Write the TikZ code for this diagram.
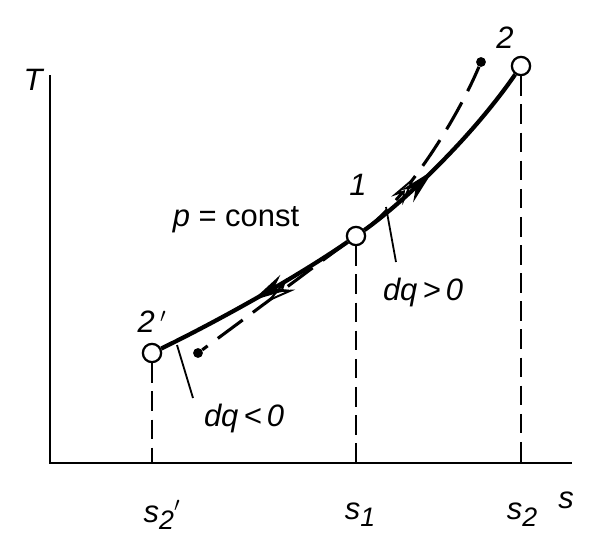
\documentclass[tikz,border=0pt]{standalone}
\usepackage{fontspec}
\setmainfont{Liberation Sans}
\usetikzlibrary{arrows.meta,decorations.markings}

\tikzstyle{state}=[draw, circle, fill=white, line width=1.6pt, minimum size=13pt, inner sep=0pt]
\tikzstyle{enddot}=[circle, fill, inner sep=0pt, minimum size=7pt]
\tikzstyle{axis}=[line width=1.8pt]
\tikzstyle{proj}=[line width=1.4pt, dash pattern=on 14pt off 6pt]
\tikzstyle{rev}=[line width=3pt]
\tikzstyle{irr}=[line width=2.2pt, dash pattern=on 22pt off 9pt]
\tikzstyle{lbl}=[font=\fontsize{22}{26}\selectfont\itshape, inner sep=1pt]
\tikzstyle{lead}=[line width=1.3pt]
\tikzset{
  fwd/.style={postaction={decorate}, decoration={markings,
    mark=at position #1 with {\arrow{Stealth[length=26pt,width=12pt]}}}},
  fwdopen/.style={postaction={decorate}, decoration={markings,
    mark=at position #1 with {\arrow[line width=1.4pt]{Stealth[open,fill=white,length=22pt,width=10pt]}}}}
}
\newcommand{\lowsub}[1]{\raisebox{-0.45ex}{\fontsize{19}{22}\selectfont #1}}

\begin{document}
\begin{tikzpicture}[x=0.025cm, y=-0.025cm]
      \useasboundingbox (0,0) rectangle (600,540);

      % axes
      \coordinate (o) at (50,463);
      \coordinate (ytop) at (50,75);
      \coordinate (xend) at (572,463);
      \draw[axis] (ytop) -- (o) -- (xend);
      \node[lbl] (Tlab) at (33,80) {T};
      \node[lbl] (slab) at (566,500) {s};

      % states
      \node[state] (pA) at (152,353) {};
      \node[state] (p1) at (356,236) {};
      \node[state] (p2) at (521,66) {};
      \node[enddot] (dA) at (198,353) {};
      \node[enddot] (dB) at (481,62) {};

      \node[lbl] (pAlab) at (152,322) {2\,$^{\prime}$};
      \node[lbl] (p1lab) at (358,185) {1};
      \node[lbl] (p2lab) at (505,38) {2};

      % projections
      \coordinate (tA) at (152,463);
      \coordinate (t1) at (356,463);
      \coordinate (t2) at (521,463);
      \draw[proj] (pA) -- (tA);
      \draw[proj] (p1) -- (t1);
      \draw[proj] (p2) -- (t2);
      \node[lbl] (sA) at (162,515) {s\lowsub{2}$^{\prime}$};
      \node[lbl] (s1) at (360,515) {s\lowsub{1}};
      \node[lbl] (s2) at (522,515) {s\lowsub{2}};

      % p = const
      \draw[irr, fwdopen=0.56] (p1) .. controls (320,262) and (270,300) .. (dA);
      \draw[irr, fwdopen=0.37] (p1) .. controls (400,205) and (452,130) .. (dB);
      \draw[rev, fwd=0.52] (p1) .. controls (300,275) and (220,320) .. (pA);
      \draw[rev, fwd=0.42] (p1) .. controls (400,205) and (470,140) .. (p2);

      \node[font=\fontsize{22}{26}\selectfont, inner sep=1pt] (plab) at (236,220) {\textit{p} = const};

      % heat labels
      \coordinate (qp) at (386,207);
      \coordinate (qpend) at (396,262);
      \draw[lead] (qp) -- (qpend);
      \node[lbl] (dqp) at (423,292) {dq\,>\,0};
      \coordinate (qm) at (177,345);
      \coordinate (qmend) at (193,398);
      \draw[lead] (qm) -- (qmend);
      \node[lbl] (dqm) at (244,418) {dq\,<\,0};
\end{tikzpicture}
\end{document}
